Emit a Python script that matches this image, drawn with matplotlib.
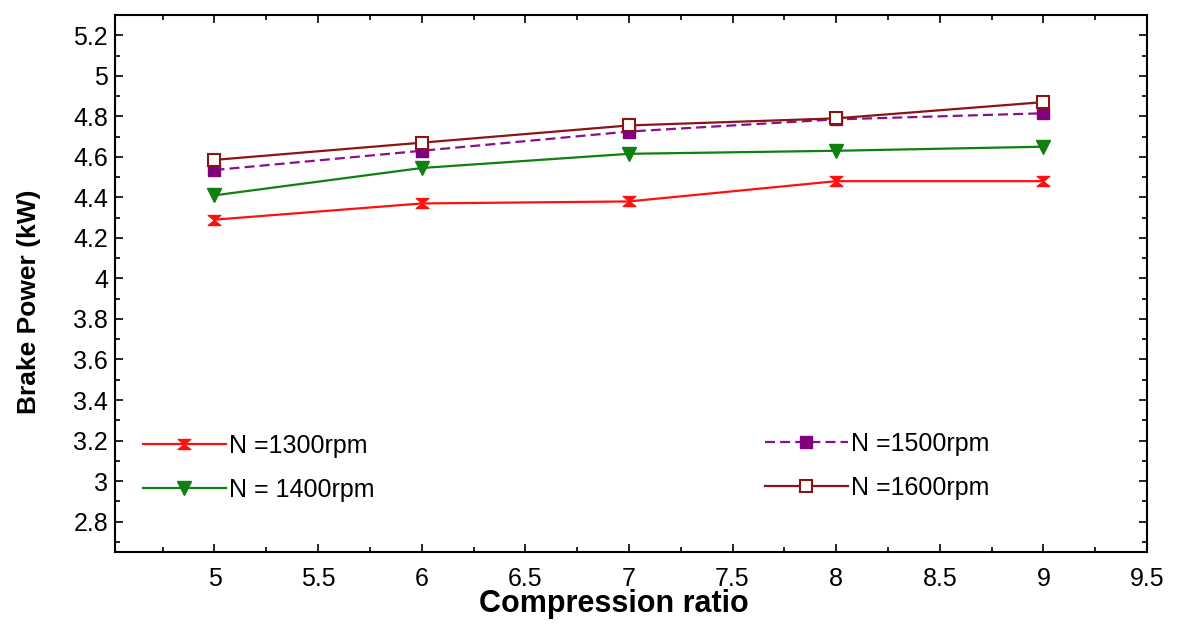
import matplotlib
matplotlib.use("Agg")
import matplotlib.pyplot as plt
from matplotlib.path import Path
from matplotlib.ticker import MultipleLocator, FormatStrFormatter

plt.rcParams['font.family'] = ['Liberation Sans', 'DejaVu Sans']

# ---- data ----
compression_ratio = [5, 6, 7, 8, 9]
bp_1300 = [4.29, 4.37, 4.38, 4.48, 4.48]
bp_1400 = [4.41, 4.545, 4.615, 4.63, 4.65]
bp_1500 = [4.535, 4.63, 4.725, 4.785, 4.815]
bp_1600 = [4.585, 4.67, 4.755, 4.79, 4.87]
labels = ["N =1300rpm", "N = 1400rpm", "N =1500rpm", "N =1600rpm"]

W, H = 1177, 624
fig = plt.figure(figsize=(W / 100, H / 100), dpi=100)
ax = fig.add_axes([115 / W, 1 - 552 / H, (1147 - 115) / W, (552 - 15) / H])

hourglass = Path([(-1, 0.8), (1, 0.8), (-1, -0.8), (1, -0.8), (-1, 0.8)],
                 [Path.MOVETO, Path.LINETO, Path.LINETO, Path.LINETO, Path.CLOSEPOLY])

l1, = ax.plot(compression_ratio, bp_1300, color='#ff1010', lw=1.6, marker=hourglass,
              ms=9, mfc='#ff1010', mec='#ff1010', label=labels[0])
l2, = ax.plot(compression_ratio, bp_1400, color='#108010', lw=1.6, marker='v',
              ms=9.5, mfc='#108010', mec='#108010', label=labels[1])
l3, = ax.plot(compression_ratio, bp_1500, color='#8a108a', lw=1.6, marker='s',
              ms=8.5, mfc='#800080', mec='#800080', dashes=(4.5, 2.3), label=labels[2])
l4, = ax.plot(compression_ratio, bp_1600, color='#8b1414', lw=1.6, marker='s',
              ms=8.5, mfc='white', mec='#8b1414', mew=1.5, label=labels[3])

ax.set_xlim(4.52, 9.5)
ax.set_ylim(2.65, 5.3)
ax.xaxis.set_major_locator(MultipleLocator(0.5))
ax.xaxis.set_minor_locator(MultipleLocator(0.25))
ax.yaxis.set_major_locator(MultipleLocator(0.2))
ax.yaxis.set_minor_locator(MultipleLocator(0.1))
ax.xaxis.set_major_formatter(FormatStrFormatter('%g'))
ax.yaxis.set_major_formatter(FormatStrFormatter('%g'))

for s in ax.spines.values():
    s.set_linewidth(1.5)
ax.tick_params(which='both', direction='in', top=True, right=True, width=1.2)
ax.tick_params(which='major', length=6)
ax.tick_params(which='minor', length=3.5)
ax.tick_params(axis='x', which='major', labelsize=18, pad=11)
ax.tick_params(axis='y', which='major', labelsize=18, pad=5)

ax.set_xlabel("Compression ratio", fontsize=22, fontweight='bold')
ax.xaxis.set_label_coords(0.483, -0.069)
ax.set_ylabel("Brake Power (kW)", fontsize=19, fontweight='bold')
ax.yaxis.set_label_coords(-0.072, 0.466)

common = dict(loc='upper left', frameon=False, fontsize=18, handlelength=3.3,
              handletextpad=0.15, labelspacing=0.8, borderpad=0, borderaxespad=0,
              bbox_transform=fig.transFigure)
leg1 = ax.legend(handles=[l1, l2], bbox_to_anchor=(143 / W, 1 - 434 / H), **common)
ax.add_artist(leg1)
leg2 = ax.legend(handles=[l3, l4], bbox_to_anchor=(765 / W, 1 - 432 / H), **common)

fig.savefig("out.png", dpi=100)
